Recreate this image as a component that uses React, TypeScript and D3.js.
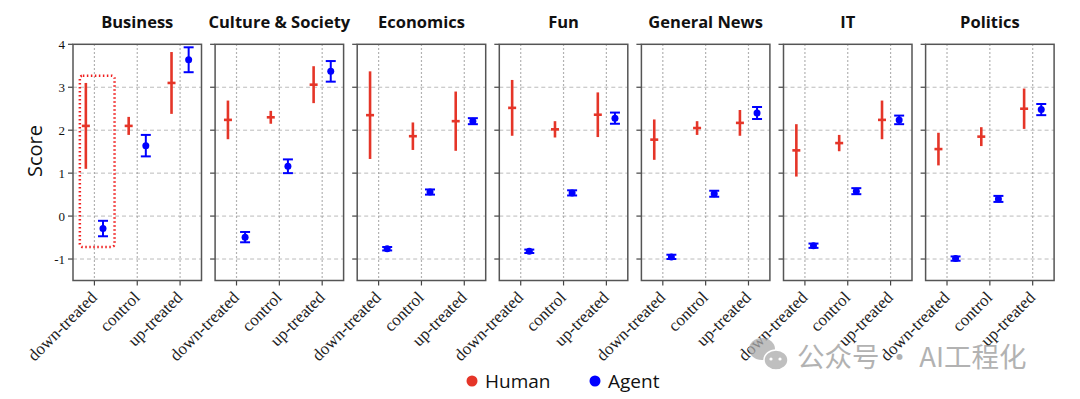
import React from 'react'
import * as d3 from 'd3'

const topics = ['Business', 'Culture & Society', 'Economics', 'Fun', 'General News', 'IT', 'Politics']
const conditions = ['down-treated', 'control', 'up-treated']
const yTicks = [-1, 0, 1, 2, 3, 4]

// per topic: [down, control, up]
const humanMean = [
  [2.1, 2.1, 3.1],
  [2.24, 2.3, 3.06],
  [2.35, 1.86, 2.21],
  [2.52, 2.02, 2.36],
  [1.78, 2.05, 2.17],
  [1.53, 1.7, 2.24],
  [1.56, 1.85, 2.5],
]
const humanErr = [
  [1.0, 0.21, 0.72],
  [0.45, 0.15, 0.43],
  [1.02, 0.32, 0.69],
  [0.65, 0.19, 0.52],
  [0.47, 0.16, 0.3],
  [0.61, 0.19, 0.45],
  [0.38, 0.22, 0.47],
]
const agentMean = [
  [-0.29, 1.64, 3.64],
  [-0.49, 1.16, 3.37],
  [-0.76, 0.56, 2.21],
  [-0.82, 0.54, 2.28],
  [-0.95, 0.52, 2.4],
  [-0.69, 0.58, 2.24],
  [-0.99, 0.4, 2.48],
]
const agentErr = [
  [0.18, 0.25, 0.29],
  [0.12, 0.16, 0.24],
  [0.04, 0.06, 0.07],
  [0.04, 0.06, 0.13],
  [0.05, 0.07, 0.14],
  [0.05, 0.07, 0.1],
  [0.05, 0.07, 0.13],
]

const RED = '#e53528'
const BLUE = '#0000ff'
const serif = '"Liberation Serif", "Times New Roman", serif'
const sans = '"Open Sans", "Noto Sans", sans-serif'

const App = () => {
  const width = 1080
  const height = 399
  const left0 = 73
  const step = 142.1
  const pw = 128.5
  const top = 44.3
  const bottom = 280.5

  const y = d3.scaleLinear().domain([-1.5, 4]).range([bottom, top])
  const x = d3.scaleLinear().domain([-0.5, 2.5]).range([0, pw])
  const off = 0.2

  return (
    <svg width={width} height={height} style={{ position: 'absolute', left: 0, top: 0 }}>
      <rect width={width} height={height} fill="#fff" />
      <text transform={`translate(42, 151) rotate(-90)`} textAnchor="middle"
        fontFamily={sans} fontSize={20} fill="#111">Score</text>
      {yTicks.map(t => (
        <text key={t} x={65} y={y(t)} dy="0.35em" textAnchor="end"
          fontFamily={serif} fontSize={13} fill="#111">{t}</text>
      ))}
      {topics.map((topic, i) => {
        const ox = left0 + i * step
        return (
          <g key={topic} transform={`translate(${ox},0)`}>
            <text x={pw / 2} y={28} textAnchor="middle" fontFamily={sans}
              fontWeight="bold" fontSize={16.5} fill="#111">{topic}</text>
            {yTicks.filter(t => t < 4).map(t => (
              <line key={t} x1={0} x2={pw} y1={y(t)} y2={y(t)}
                stroke="#bbb" strokeDasharray="4,3" strokeWidth={1} />
            ))}
            {conditions.map((c, j) => (
              <line key={c} x1={x(j)} x2={x(j)} y1={top} y2={bottom}
                stroke="#999" strokeDasharray="1.5,2.5" strokeWidth={1.2} />
            ))}
            {yTicks.map(t => (
              <line key={t} x1={-5} x2={0} y1={y(t)} y2={y(t)} stroke="#444" strokeWidth={1.2} />
            ))}
            {conditions.map((c, j) => (
              <g key={c}>
                <line x1={x(j)} x2={x(j)} y1={bottom} y2={bottom + 5} stroke="#444" strokeWidth={1.2} />
                <text transform={`translate(${x(j) + 3.5},${bottom + 18}) rotate(-45)`}
                  textAnchor="end" fontFamily={serif} fontSize={17} fill="#222">{c}</text>
              </g>
            ))}
            <rect x={0} y={top} width={pw} height={bottom - top} fill="none" stroke="#555" strokeWidth={1.5} />
            {humanMean[i].map((m, j) => {
              const cx = x(j - off)
              const e = humanErr[i][j]
              return (
                <g key={'h' + j}>
                  <line x1={cx} x2={cx} y1={y(m - e)} y2={y(m + e)} stroke={RED} strokeWidth={2.6} />
                  <line x1={cx - 4} x2={cx + 4} y1={y(m)} y2={y(m)} stroke={RED} strokeWidth={2.6} />
                </g>
              )
            })}
            {agentMean[i].map((m, j) => {
              const cx = x(j + off)
              const e = agentErr[i][j]
              return (
                <g key={'a' + j}>
                  <line x1={cx} x2={cx} y1={y(m - e)} y2={y(m + e)} stroke={BLUE} strokeWidth={2} />
                  <line x1={cx - 5} x2={cx + 5} y1={y(m - e)} y2={y(m - e)} stroke={BLUE} strokeWidth={2} />
                  <line x1={cx - 5} x2={cx + 5} y1={y(m + e)} y2={y(m + e)} stroke={BLUE} strokeWidth={2} />
                  <circle cx={cx} cy={y(m)} r={3.5} fill={BLUE} />
                </g>
              )
            })}
            {i === 0 && (
              <rect x={x(-0.34)} y={y(3.27)} width={x(0.47) - x(-0.34)} height={y(-0.72) - y(3.27)}
                rx={3} fill="none" stroke="#f02020" strokeWidth={2.5} strokeDasharray="1.5,2.5" />
            )}
          </g>
        )
      })}
      <circle cx={472} cy={381} r={5.5} fill={RED} />
      <text x={485} y={387.5} fontFamily={sans} fontSize={19} fill="#111">Human</text>
      <circle cx={595} cy={381} r={5.5} fill={BLUE} />
      <text x={608} y={387.5} fontFamily={sans} fontSize={19} fill="#111">Agent</text>
      <g opacity={0.75}>
        <ellipse cx={762} cy={349} rx={13} ry={11} fill="#aaa" />
        <ellipse cx={776} cy={360} rx={12} ry={10} fill="#aaa" stroke="#fff" strokeWidth={1.5} />
        <circle cx={771} cy={359} r={1.6} fill="#fff" />
        <circle cx={780} cy={359} r={1.6} fill="#fff" />
        <text x={797} y={367} fontFamily='"Noto Sans CJK SC", sans-serif' fontSize={27.5} fill="#999">公众号 · AI工程化</text>
      </g>
    </svg>
  )
}

export default App
